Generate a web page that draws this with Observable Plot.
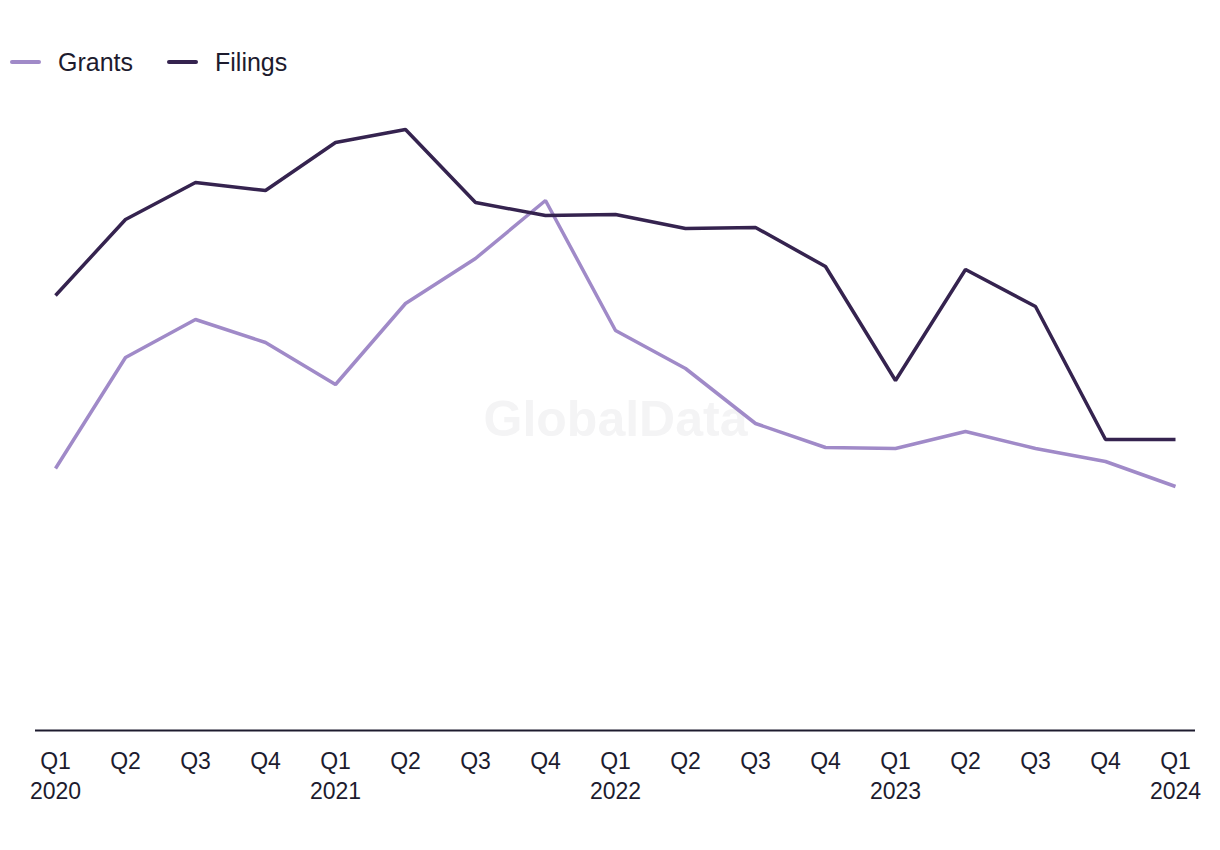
<!DOCTYPE html>
<html>
<head>
<meta charset="utf-8">
<script src="https://cdn.jsdelivr.net/npm/d3@7"></script>
<script src="https://cdn.jsdelivr.net/npm/@observablehq/plot@0.6"></script>
<style>
  html, body { margin: 0; padding: 0; background: #fff; }
  body { width: 1220px; height: 850px; overflow: hidden; font-family: "Liberation Sans", Arial, sans-serif; color: #1d1b2e; }
  #legend { height: 100px; position: relative; }
  .item { position: absolute; top: 47px; display: flex; align-items: center; font-size: 25px; line-height: 30px; }
  .sw { width: 31px; height: 4px; border-radius: 2px; margin-right: 17px; }
</style>
</head>
<body>
<div id="legend"></div>
<div id="chart"></div>
<script>
const quarters = ["Q1","Q2","Q3","Q4","Q1","Q2","Q3","Q4","Q1","Q2","Q3","Q4","Q1","Q2","Q3","Q4","Q1"];
const years    = ["2020","","","","2021","","","","2022","","","","2023","","","","2024"];
const grants   = [262, 373, 411, 388, 346, 427, 472, 530, 400, 362, 307, 283, 282, 299, 282, 269, 244];
const filings  = [435, 511, 548, 540, 588, 601, 528, 515, 516, 502, 503, 464, 350, 461, 424, 291, 291];
const seriesNames = ["Grants", "Filings"];
const seriesColors = ["#a08ac8", "#35234f"];

const keys = quarters.map((q, i) => i);
const rows = [];
keys.forEach(i => {
  rows.push({i, series: "Grants", value: grants[i]});
  rows.push({i, series: "Filings", value: filings[i]});
});

// legend
const legend = document.getElementById("legend");
const legendX = [10, 167];
seriesNames.forEach((name, k) => {
  const it = document.createElement("div");
  it.className = "item";
  it.style.left = legendX[k] + "px";
  const sw = document.createElement("div");
  sw.className = "sw";
  sw.style.background = seriesColors[k];
  const t = document.createElement("span");
  t.textContent = name;
  it.appendChild(sw); it.appendChild(t);
  legend.appendChild(it);
});

const chart = Plot.plot({
  width: 1220,
  height: 750,
  marginLeft: 35,
  marginRight: 25,
  marginTop: 0,
  marginBottom: 120,
  style: {fontFamily: "Liberation Sans, Arial, sans-serif", color: "#1d1b2e", background: "#fff"},
  x: {type: "point", domain: keys, padding: 20/70, axis: null},
  y: {domain: [0, 630], axis: null},
  color: {domain: seriesNames, range: seriesColors},
  marks: [
    Plot.text(["GlobalData"], {frameAnchor: "middle", dx: 0, dy: 4, fontSize: 50, fontWeight: "bold", fill: "#f4f4f5", text: d => d}),
    Plot.ruleY([0], {stroke: "#1d1b2e", strokeWidth: 2}),
    Plot.axisX({
      label: null,
      tickSize: 0,
      tickPadding: 17,
      fontSize: 23,
      lineHeight: 1.3,
      tickFormat: i => years[i] ? quarters[i] + "\n" + years[i] : quarters[i],
      fill: "#1d1b2e",
      textAnchor: "middle"
    }),
    Plot.line(rows, {x: "i", y: "value", z: "series", stroke: "series", strokeWidth: 3.5, strokeLinejoin: "miter", strokeLinecap: "butt"})
  ]
});
document.getElementById("chart").appendChild(chart);
</script>
</body>
</html>
